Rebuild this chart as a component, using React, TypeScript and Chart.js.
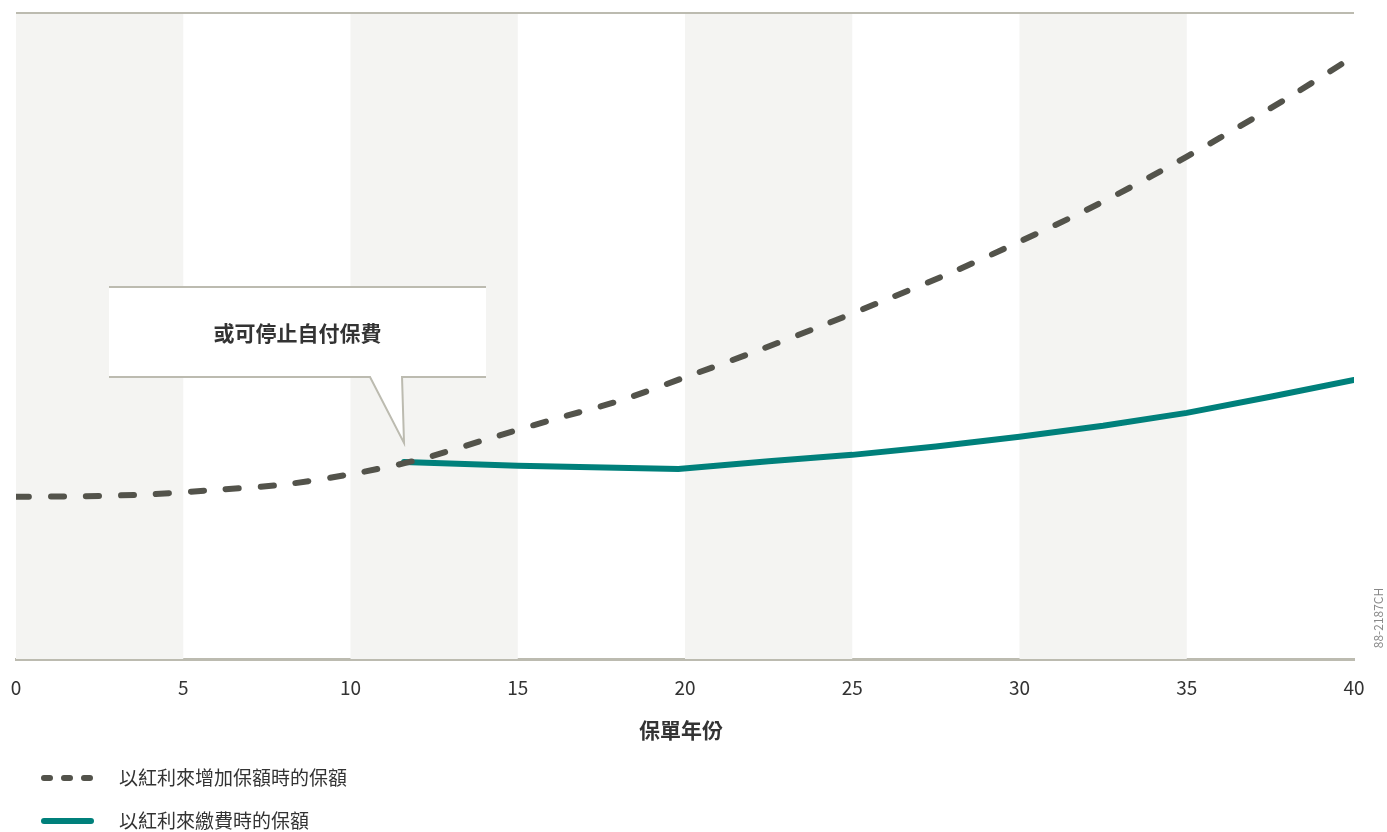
import React, { useEffect, useRef } from "react";
import { Chart, registerables } from "chart.js";

Chart.register(...registerables);

// ---- data ----
const policyYears = [0, 2, 4, 6, 8, 10, 12, 14, 16, 18, 20, 22, 24, 26, 28, 30, 32, 34, 36, 38, 40];
const bonusAddValues = [25.1, 25.2, 25.5, 26.2, 27.0, 28.6, 30.8, 33.9, 37.0, 39.9, 43.6, 47.4, 51.4, 55.6, 59.9, 64.6, 69.5, 74.9, 80.7, 86.8, 93.3];
const payYears = [11.6, 15, 19.8, 22.5, 25, 27.5, 30, 32.5, 35, 37.5, 40];
const payValues = [30.5, 29.9, 29.4, 30.6, 31.6, 32.9, 34.4, 36.1, 38.1, 40.6, 43.2];
const xTicks = [0, 5, 10, 15, 20, 25, 30, 35, 40];
const shadedBands: [number, number][] = [[0, 5], [10, 15], [20, 25], [30, 35]];
const legendLabels = ["以紅利來增加保額時的保額", "以紅利來繳費時的保額"];
const axisTitle = "保單年份";
const calloutText = "或可停止自付保費";
const stopYear = 11.6;
const stopValue = 30.5;
const codeText = "88-2187CH";

const FONT = '"Noto Sans CJK TC", "Noto Sans", sans-serif';
const DARK = "#53534b";
const TEAL = "#00807b";
const LINE_GREY = "#bcbbb0";

const decorPlugin = {
  id: "decor",
  beforeDatasetsDraw(chart: any) {
    const { ctx, chartArea, scales } = chart;
    const x = scales.x;
    ctx.save();
    ctx.fillStyle = "#f4f4f2";
    for (const [a, b] of shadedBands) {
      const x0 = x.getPixelForValue(a);
      const x1 = x.getPixelForValue(b);
      ctx.fillRect(x0, chartArea.top, x1 - x0, chartArea.bottom - chartArea.top);
    }
    ctx.strokeStyle = LINE_GREY;
    ctx.lineWidth = 2;
    ctx.beginPath();
    ctx.moveTo(chartArea.left, chartArea.top);
    ctx.lineTo(chartArea.right, chartArea.top);
    ctx.stroke();

    // callout box
    const tipX = x.getPixelForValue(stopYear);
    const tipY = scales.y.getPixelForValue(stopValue) - 19;
    const bx0 = 109, bx1 = 486, by0 = 287, by1 = 377;
    ctx.fillStyle = "#ffffff";
    ctx.beginPath();
    ctx.moveTo(bx0, by0);
    ctx.lineTo(bx1, by0);
    ctx.lineTo(bx1, by1);
    ctx.lineTo(tipX - 2, by1);
    ctx.lineTo(tipX, tipY);
    ctx.lineTo(tipX - 34, by1);
    ctx.lineTo(bx0, by1);
    ctx.closePath();
    ctx.fill();
    ctx.strokeStyle = LINE_GREY;
    ctx.lineWidth = 2;
    ctx.beginPath();
    ctx.moveTo(bx0, by0);
    ctx.lineTo(bx1, by0);
    ctx.stroke();
    ctx.beginPath();
    ctx.moveTo(bx0, by1);
    ctx.lineTo(tipX - 34, by1);
    ctx.lineTo(tipX, tipY);
    ctx.lineTo(tipX - 2, by1);
    ctx.lineTo(bx1, by1);
    ctx.stroke();
    ctx.fillStyle = "#333333";
    ctx.font = `bold 21px ${FONT}`;
    ctx.textAlign = "center";
    ctx.textBaseline = "middle";
    ctx.fillText(calloutText, (bx0 + bx1) / 2, (by0 + by1) / 2 + 1);
    ctx.restore();
  },
  afterDraw(chart: any) {
    const { ctx, chartArea } = chart;
    ctx.save();
    ctx.fillStyle = "#333333";
    ctx.textBaseline = "middle";
    ctx.textAlign = "center";
    ctx.font = `bold 21px ${FONT}`;
    ctx.fillText(axisTitle, (chartArea.left + chartArea.right) / 2 - 4, 730);

    // legend
    ctx.lineCap = "round";
    ctx.lineWidth = 6;
    ctx.strokeStyle = DARK;
    ctx.setLineDash([6, 14]);
    ctx.beginPath();
    ctx.moveTo(44, 778);
    ctx.lineTo(93, 778);
    ctx.stroke();
    ctx.setLineDash([]);
    ctx.strokeStyle = TEAL;
    ctx.beginPath();
    ctx.moveTo(44, 821);
    ctx.lineTo(91, 821);
    ctx.stroke();
    ctx.font = `19px ${FONT}`;
    ctx.textAlign = "left";
    ctx.fillStyle = "#333333";
    ctx.fillText(legendLabels[0], 119, 778);
    ctx.fillText(legendLabels[1], 119, 821);

    // code
    ctx.translate(1378, 618);
    ctx.rotate(-Math.PI / 2);
    ctx.textAlign = "center";
    ctx.fillStyle = "#888888";
    ctx.font = `12px ${FONT}`;
    ctx.fillText(codeText, 0, 0);
    ctx.restore();
  },
};

export default function App() {
  const ref = useRef<HTMLCanvasElement>(null);
  useEffect(() => {
    if (!ref.current) return;
    Chart.defaults.font.family = FONT;
    const chart = new Chart(ref.current, {
      type: "line",
      data: {
        datasets: [
          {
            label: legendLabels[0],
            data: policyYears.map((v, i) => ({ x: v, y: bonusAddValues[i] })),
            borderColor: DARK,
            borderWidth: 6,
            borderDash: [13, 22],
            borderCapStyle: "round",
            pointRadius: 0,
            tension: 0.3,
            fill: false,
          },
          {
            label: legendLabels[1],
            data: payYears.map((v, i) => ({ x: v, y: payValues[i] })),
            borderColor: TEAL,
            borderWidth: 6,
            borderCapStyle: "round",
            pointRadius: 0,
            tension: 0,
            fill: false,
          },
        ],
      },
      options: {
        responsive: false,
        animation: false,
        layout: { padding: { left: 16, right: 33, top: 13, bottom: 0 } },
        plugins: { legend: { display: false }, tooltip: { enabled: false } },
        scales: {
          x: {
            type: "linear",
            min: 0,
            max: 40,
            afterFit: (s: any) => {
              s.height = 173;
              s.paddingLeft = 0;
              s.paddingRight = 0;
            },
            afterBuildTicks: (s: any) => {
              s.ticks = xTicks.map((v) => ({ value: v }));
            },
            grid: { display: false, drawTicks: false },
            border: { display: true, color: LINE_GREY, width: 3 },
            ticks: {
              padding: 17,
              color: "#333333",
              font: { size: 19, family: FONT },
              maxRotation: 0,
            },
          },
          y: {
            type: "linear",
            min: 0,
            max: 100,
            display: false,
          },
        },
      },
      plugins: [decorPlugin],
    });
    return () => chart.destroy();
  }, []);
  return (
    <div style={{ position: "absolute", left: 0, top: 0, width: 1387, height: 832, background: "#fff" }}>
      <canvas ref={ref} width={1387} height={832} style={{ display: "block" }} />
    </div>
  );
}
